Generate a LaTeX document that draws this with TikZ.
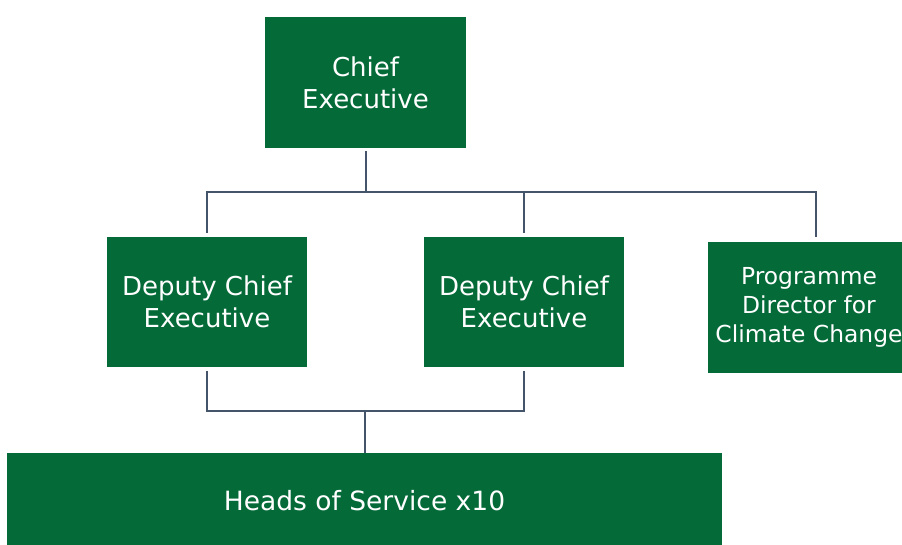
\documentclass[tikz,border=0pt]{standalone}
\usepackage{fontspec}
\setmainfont{DejaVu Sans}
\usepackage{tikz}
\definecolor{boxgreen}{RGB}{4,106,56}
\definecolor{linegrey}{RGB}{68,84,106}

\begin{document}
\begin{tikzpicture}[x=1pt,y=-1pt]
\tikzstyle{post}=[rectangle,fill=boxgreen,text=white,inner sep=0pt,align=center,font=\fontsize{26}{32}\selectfont]
\tikzstyle{link}=[draw=linegrey,line width=2pt]
\clip (0,0) rectangle (902,545);
% boxes
\node [post,minimum width=201pt,minimum height=131pt] (chief) at (365.5,82.5) {Chief\\Executive};
\node [post,minimum width=200pt,minimum height=130pt] (dceA) at (207,302) {Deputy Chief\\Executive};
\node [post,minimum width=200pt,minimum height=130pt] (dceB) at (524,302) {Deputy Chief\\Executive};
\node [post,minimum width=202pt,minimum height=131pt,font=\fontsize{23.4}{29}\selectfont] (pdcc) at (809,307.5) {Programme\\Director for\\Climate Change};
\node [post,minimum width=715pt,minimum height=95pt,font=\fontsize{26.5}{32}\selectfont] (hos) at (364.5,500.5) {Heads of Service x10};
% upper bus
\coordinate (busA) at (365,192);
\coordinate (pdtop) at (816,242);
\draw [link,shorten <=3pt] (chief.south) -- (chief.south |- busA);
\draw [link,shorten <=4pt,shorten >=5pt] (dceA.north) -- (dceA.north |- busA) -- (pdtop |- busA) -- (pdtop);
\draw [link,shorten >=4pt] (dceB.north |- busA) -- (dceB.north);
% lower bus
\coordinate (busB) at (365,411);
\draw [link,shorten <=4pt,shorten >=4pt] (dceA.south) -- (dceA.south |- busB) -- (dceB.south |- busB) -- (dceB.south);
\draw [link] (busB) -- (busB |- hos.north);
\end{tikzpicture}
\end{document}
